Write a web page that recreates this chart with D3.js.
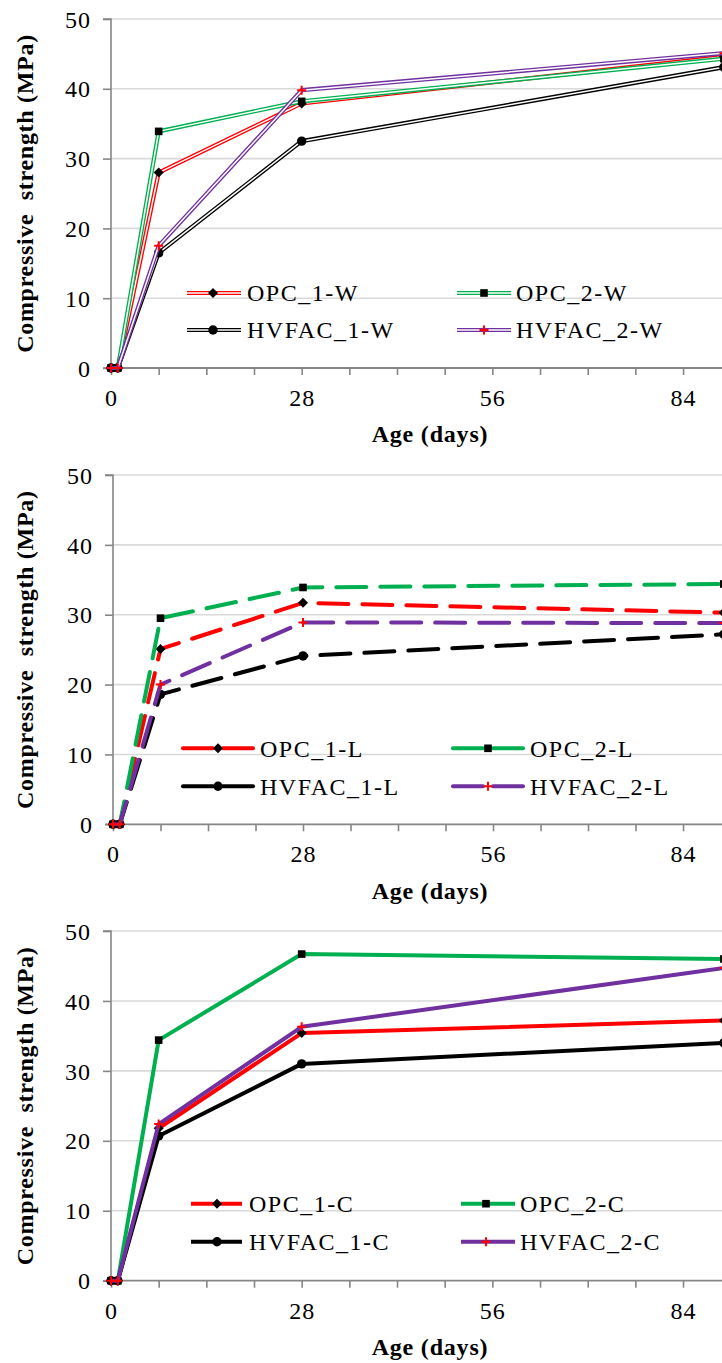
<!DOCTYPE html>
<html><head><meta charset="utf-8">
<script src="https://cdn.jsdelivr.net/npm/d3@7"></script>
<style>body{margin:0;background:#fff} svg{display:block}</style>
</head><body>
<svg id="c" width="722" height="1363"></svg>
<script>
// ---- data ----
const days = [0, 1, 7, 28, 90];
const labelsW = ["OPC_1-W", "OPC_2-W", "HVFAC_1-W", "HVFAC_2-W"];
const opc1W   = [0, 0, 28.0, 37.9, 44.6];
const opc2W   = [0, 0, 33.9, 38.2, 44.3];
const hvfac1W = [0, 0, 16.5, 32.5, 43.1];
const hvfac2W = [0, 0, 17.5, 39.8, 45.1];
const labelsL = ["OPC_1-L", "OPC_2-L", "HVFAC_1-L", "HVFAC_2-L"];
const opc1L   = [0, 0, 25.1, 31.7, 30.3];
const opc2L   = [0, 0, 29.5, 33.9, 34.4];
const hvfac1L = [0, 0, 18.6, 24.1, 27.2];
const hvfac2L = [0, 0, 20.0, 28.9, 28.8];
const labelsC = ["OPC_1-C", "OPC_2-C", "HVFAC_1-C", "HVFAC_2-C"];
const opc1C   = [0, 0, 21.8, 35.4, 37.2];
const opc2C   = [0, 0, 34.4, 46.7, 46.0];
const hvfac1C = [0, 0, 20.7, 31.0, 34.0];
const hvfac2C = [0, 0, 22.4, 36.3, 44.7];
const yTicks = [0, 10, 20, 30, 40, 50];
const xTickLabels = [0, 28, 56, 84];
const xMinorTicks = [7, 14, 21, 35, 42, 49, 63, 70, 77, 91];
const yTitle = "Compressive  strength (MPa)";
const xTitle = "Age (days)";

// ---- styles ----
const colors = ["#ff0000", "#00b050", "#000000", "#7030a0"];
const markers = ["diamond", "square", "circle", "plus"];
const W = 722;
const font = "'Liberation Serif','Times New Roman',serif";

const panels = [
  { top: 19, bottom: 368, x0: 111, ppd: 6.81, style: "double",
    series: [opc1W, opc2W, hvfac1W, hvfac2W], labels: labelsW,
    legRows: [-75, -38],
    legCols: [{l:187, r:241, m:213, t:247}, {l:457, r:511, m:484, t:516}] },
  { top: 475, bottom: 824.3, x0: 113, ppd: 6.786, style: "dash",
    series: [opc1L, opc2L, hvfac1L, hvfac2L], labels: labelsL,
    legRows: [-76, -38],
    legCols: [{l:183, r:253, m:218, t:260}, {l:453, r:523, m:488, t:530}] },
  { top: 931, bottom: 1280.7, x0: 111, ppd: 6.81, style: "solid",
    series: [opc1C, opc2C, hvfac1C, hvfac2C], labels: labelsC,
    legRows: [-77, -39],
    legCols: [{l:191, r:242, m:217, t:249}, {l:461, r:515, m:486, t:520}] }
];

const svg = d3.select("#c");

function drawMarker(g, type, cx, cy) {
  if (type === "diamond") {
    g.append("path").attr("d", `M${cx},${cy-5}L${cx+5},${cy}L${cx},${cy+5}L${cx-5},${cy}Z`).attr("fill", "#000");
  } else if (type === "square") {
    g.append("rect").attr("x", cx-3.8).attr("y", cy-3.8).attr("width", 7.6).attr("height", 7.6).attr("fill", "#000");
  } else if (type === "circle") {
    g.append("circle").attr("cx", cx).attr("cy", cy).attr("r", 4.7).attr("fill", "#000");
  } else {
    g.append("path").attr("d", `M${cx-4.5},${cy}H${cx+4.5}M${cx},${cy-4.5}V${cy+4.5}`)
      .attr("stroke", "#ff0000").attr("stroke-width", 2).attr("fill", "none");
  }
}

function strokeLine(g, d, color, style) {
  if (style === "double") {
    g.append("path").attr("d", d).attr("fill", "none").attr("stroke", color).attr("stroke-width", 4.2).attr("stroke-linejoin", "round");
    g.append("path").attr("d", d).attr("fill", "none").attr("stroke", "#fff").attr("stroke-width", 1.5).attr("stroke-linejoin", "round");
  } else if (style === "dash") {
    g.append("path").attr("d", d).attr("fill", "none").attr("stroke", color).attr("stroke-width", 4)
      .attr("stroke-dasharray", "30 14").attr("stroke-linecap", "round").attr("stroke-linejoin", "round");
  } else {
    g.append("path").attr("d", d).attr("fill", "none").attr("stroke", color).attr("stroke-width", 4).attr("stroke-linejoin", "round");
  }
}

panels.forEach(p => {
  const g = svg.append("g");
  const x = d3.scaleLinear().domain([0, 28]).range([p.x0, p.x0 + 28 * p.ppd]);
  const y = d3.scaleLinear().domain([0, 50]).range([p.bottom, p.top]);

  // gridlines
  g.selectAll(".grid").data(yTicks.filter(v => v > 0)).enter().append("line")
    .attr("x1", p.x0).attr("x2", W).attr("y1", d => y(d)).attr("y2", d => y(d))
    .attr("stroke", "#d9d9d9").attr("stroke-width", 1.6);

  // y axis
  const yAxis = d3.axisLeft(y).tickValues(yTicks).tickSize(8).tickPadding(12).tickFormat(d3.format("d"));
  const ya = g.append("g").attr("transform", `translate(${p.x0},0)`).call(yAxis);
  ya.select(".domain").attr("stroke", "#868686").attr("stroke-width", 1.6).attr("d", `M-8,${p.top}H0V${p.bottom}H-8`);
  ya.selectAll(".tick line").attr("stroke", "#868686").attr("stroke-width", 1.6);
  ya.selectAll("text").attr("font-family", font).attr("font-size", 24).attr("fill", "#000")
    .attr("letter-spacing", 1).attr("dy", "0.34em");

  // x axis
  const xa = g.append("g").attr("transform", `translate(0,${p.bottom})`)
    .call(d3.axisBottom(x).tickValues(xTickLabels).tickSize(7).tickPadding(14).tickFormat(d3.format("d")));
  xa.select(".domain").attr("stroke", "#868686").attr("stroke-width", 1.8).attr("d", `M${p.x0},0H${W}`);
  xa.selectAll(".tick line").attr("stroke", "#868686").attr("stroke-width", 1.6);
  xa.selectAll("text").attr("font-family", font).attr("font-size", 24).attr("fill", "#000").attr("letter-spacing", 1);
  const xm = g.append("g").attr("transform", `translate(0,${p.bottom})`)
    .call(d3.axisBottom(x).tickValues(xMinorTicks).tickSize(7).tickFormat(""));
  xm.select(".domain").remove();
  xm.selectAll(".tick line").attr("stroke", "#868686").attr("stroke-width", 1.6);

  // titles
  g.append("text").attr("transform", `translate(25,${(p.top + p.bottom) / 2}) rotate(-90)`)
    .attr("text-anchor", "middle").attr("dy", "0.35em").attr("font-family", font).attr("font-weight", "bold")
    .attr("font-size", 24).attr("letter-spacing", 0.7).style("white-space", "pre").text(yTitle);
  g.append("text").attr("x", 430).attr("y", p.bottom + 66).attr("dy", "0.35em")
    .attr("text-anchor", "middle").attr("font-family", font).attr("font-weight", "bold")
    .attr("font-size", 24).attr("letter-spacing", 0.8).text(xTitle);

  // series
  const line = d3.line().x((d, i) => x(days[i])).y(d => y(d));
  p.series.forEach((vals, si) => {
    const sg = g.append("g");
    strokeLine(sg, line(vals), colors[si], p.style);
    vals.forEach((v, i) => drawMarker(sg, markers[si], x(days[i]), y(v)));
  });

  // legend
  p.labels.forEach((lab, si) => {
    const col = p.legCols[si % 2];
    const ry = p.bottom + p.legRows[Math.floor(si / 2)];
    const lg = g.append("g");
    if (p.style === "dash") {
      lg.append("line").attr("x1", col.l).attr("x2", col.m - 5).attr("y1", ry).attr("y2", ry)
        .attr("stroke", colors[si]).attr("stroke-width", 4).attr("stroke-linecap", "round");
      lg.append("line").attr("x1", col.m + 5).attr("x2", col.r).attr("y1", ry).attr("y2", ry)
        .attr("stroke", colors[si]).attr("stroke-width", 4).attr("stroke-linecap", "round");
    } else {
      strokeLine(lg, `M${col.l},${ry}H${col.r}`, colors[si], p.style);
    }
    drawMarker(lg, markers[si], col.m, ry);
    lg.append("text").attr("x", col.t).attr("y", ry).attr("dy", "0.35em")
      .attr("font-family", font).attr("font-size", 24).attr("letter-spacing", 1.5).text(lab);
  });
});
</script>
</body></html>
